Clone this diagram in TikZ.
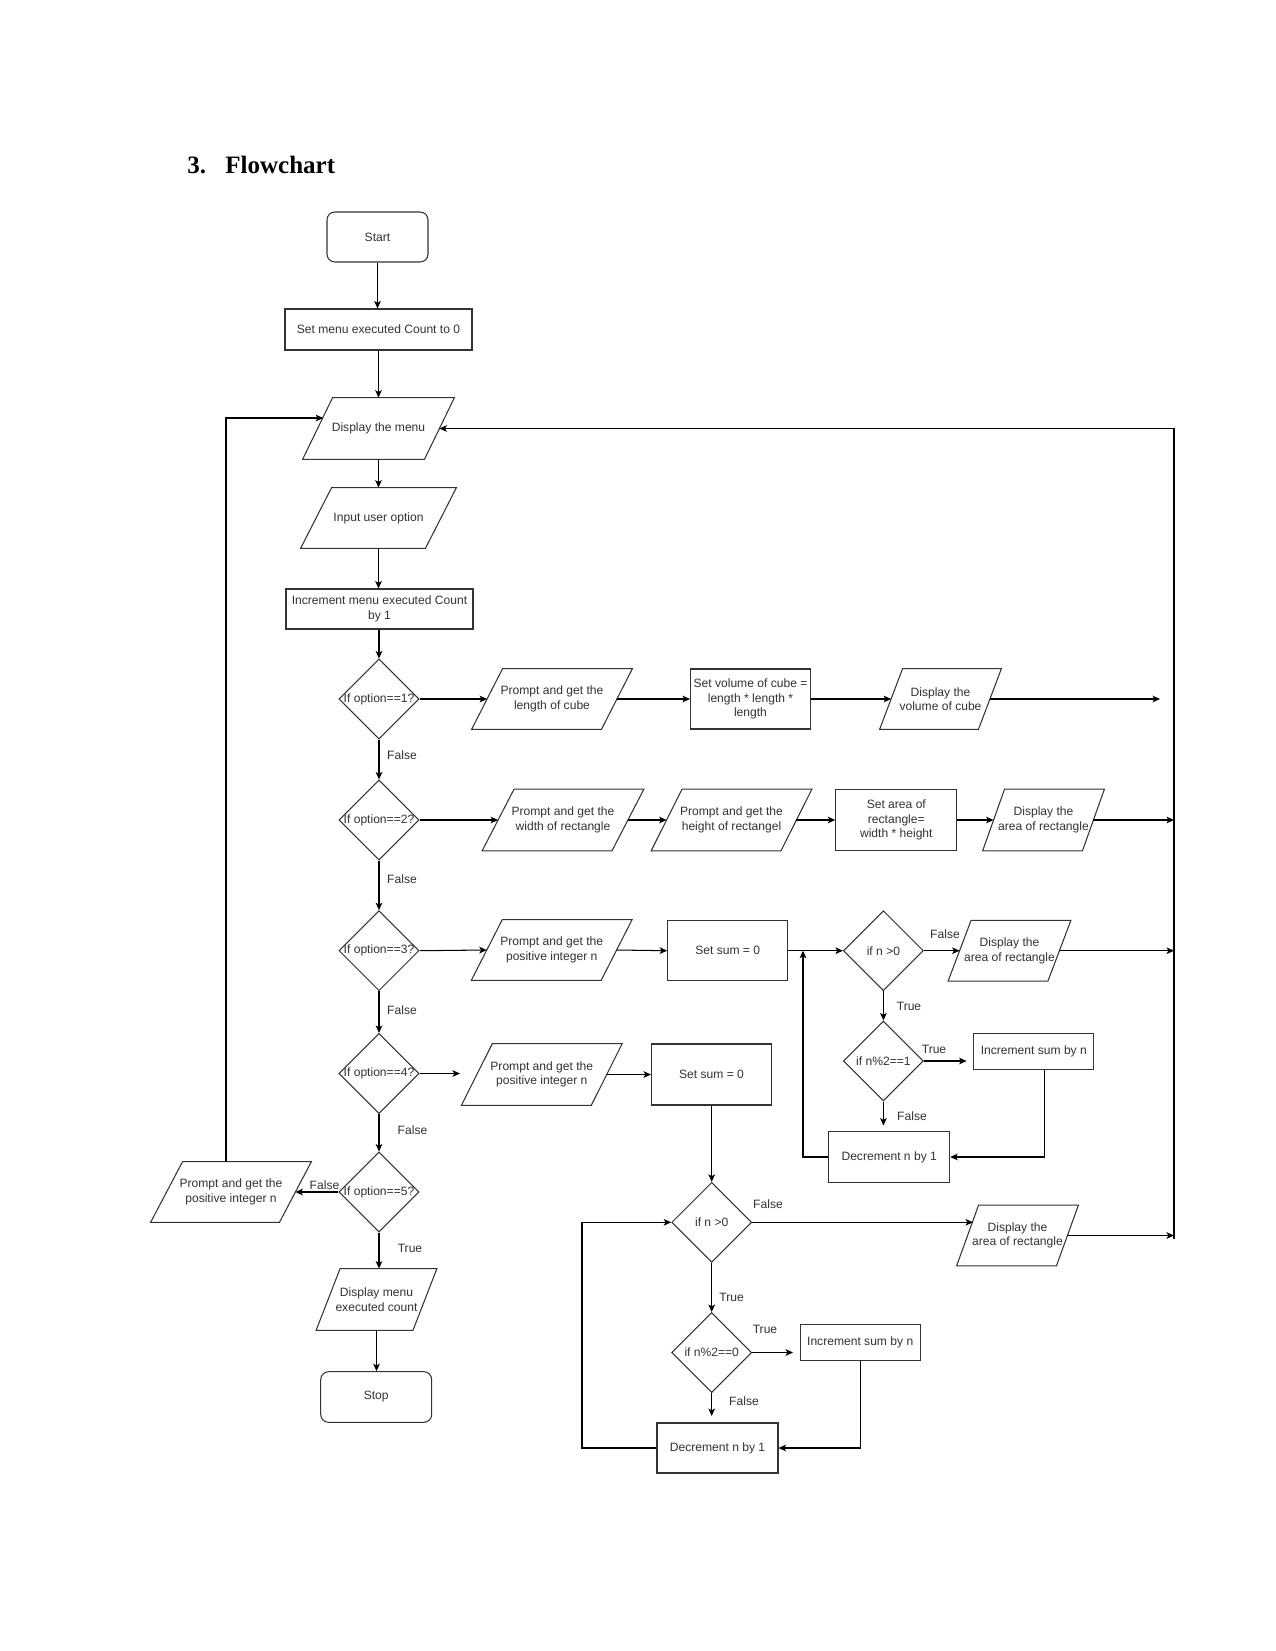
\documentclass[tikz,border=0pt]{standalone}
\usepackage{fontspec}
\setmainfont{Liberation Sans}
\newfontfamily\titlefont{Liberation Serif}
\usetikzlibrary{shapes.geometric,arrows.meta,calc}
\newcommand\iobox[2]{\draw[shp] ([xshift=#2*0.24pt]#1.north west) -- ([xshift=#2*0.24pt]#1.north east) -- ([xshift=-#2*0.24pt]#1.south east) -- ([xshift=-#2*0.24pt]#1.south west) -- cycle;}
\begin{document}
\begin{tikzpicture}[x=0.48pt,y=-0.48pt,
  shp/.style={draw=black!80, line width=0.5pt},
  txt/.style={font=\fontsize{5.8}{6.9}\selectfont, text=black!80},
  proc/.style={shp, txt, rectangle, inner sep=0pt, align=center},
  io/.style={txt, rectangle, inner sep=0pt, align=center},
  dia/.style={shp, txt, diamond, inner sep=0pt, minimum width=38.4pt, minimum height=38.4pt},
  term/.style={proc, rounded corners=3.8pt},
  arr/.style={-{Stealth[length=3.6pt,width=3.2pt,inset=0.9pt]}, line width=0.5pt, black},
  lbl/.style={txt, inner sep=0pt},
  W/.style={minimum width=#1*0.48pt},
  H/.style={minimum height=#1*0.48pt}]
\useasboundingbox[fill=white] (0,0) rectangle (1275,1651);

% title
\node[anchor=base west, inner sep=0pt, font=\titlefont\bfseries\fontsize{12}{14}\selectfont] (t1) at (187,173.5) {3.};
\node[anchor=base west, inner sep=0pt, font=\titlefont\bfseries\fontsize{12}{14}\selectfont] (t2) at (225,173.5) {Flowchart};

% main column
\node[term, W=101, H=50] (start) at (377.5,237) {Start};
\node[proc, W=187, H=41] (setcnt) at (378.5,329.5) {Set menu executed Count to 0};
\node[io, W=121, H=61] (menu) at (378.5,428.5) {Display the menu}; \iobox{menu}{30}
\node[io, W=124, H=60] (input) at (378.5,518) {Input user option}; \iobox{input}{31}
\node[proc, W=187, H=40] (inc) at (379.5,609) {Increment menu executed Count\\by 1};
\node[dia] (d1) at (379,699) {\makebox[0pt]{If option==1?}};
\node[dia] (d2) at (379,820) {\makebox[0pt]{If option==2?}};
\node[dia] (d3) at (379,950.7) {\makebox[0pt]{If option==3?}};
\node[dia] (d4) at (379,1073.5) {\makebox[0pt]{If option==4?}};
\node[dia] (d5) at (379,1192) {\makebox[0pt]{If option==5?}};
\node[io, W=96, H=61] (dispcnt) at (376.5,1299.5) {Display menu\\executed count}; \iobox{dispcnt}{24}
\node[term, W=111, H=50.6] (stop) at (376.2,1397) {Stop};
\node[io, W=128, H=60] (p5) at (231,1192) {Prompt and get the\\positive integer n}; \iobox{p5}{32}

% row 1
\node[io, W=129, H=60] (p1) at (552,699) {Prompt and get the\\length of cube}; \iobox{p1}{31}
\node[proc, W=120, H=60] (vol) at (750.5,699) {Set volume of cube =\\length * length *\\length};
\node[io, W=98, H=60] (dvol) at (940.5,699) {Display the\\volume of cube}; \iobox{dvol}{23}
\coordinate (e1) at (1160,699);

% row 2
\node[io, W=129, H=61] (pw) at (563,820) {Prompt and get the\\width of rectangle}; \iobox{pw}{32}
\node[io, W=129, H=61] (ph) at (731.5,820) {Prompt and get the\\height of rectangel}; \iobox{ph}{31}
\node[proc, W=121, H=61] (area) at (896.3,820) {Set area of\\rectangle=\\width * height};
\node[io, W=99, H=61] (darea2) at (1043.5,820) {Display the\\area of rectangle}; \iobox{darea2}{22}
\coordinate (r2) at (1174,820);

% row 3
\node[io, W=129, H=60] (p3) at (551.7,950) {Prompt and get the\\positive integer n}; \iobox{p3}{31}
\node[proc, W=120, H=60] (sum3) at (727.7,950.7) {Set sum = 0};
\node[dia] (n3) at (883.4,950.7) {\makebox[0pt]{if n >0}};
\node[io, W=99, H=60] (darea3) at (1009.5,950.7) {Display the\\area of rectangle}; \iobox{darea3}{23}
\coordinate (r3) at (1174,950.7);
\node[dia] (odd3) at (883.4,1061) {\makebox[0pt]{if n\%2==1}};
\node[proc, W=120, H=36] (incs3) at (1033.8,1051.7) {Increment sum by n};
\node[proc, W=121, H=50.5] (dec3) at (889.2,1157) {Decrement n by 1};
\coordinate (c3a) at (966.6,1061);
\coordinate (c3b) at (883.4,1125.5);
\coordinate (loop3) at (803,950.7);

% row 4
\coordinate (e4) at (460,1073.5);
\node[io, W=129, H=61] (p4) at (541.8,1074.5) {Prompt and get the\\positive integer n}; \iobox{p4}{31}
\node[proc, W=120, H=61] (sum4) at (711.5,1074.5) {Set sum = 0};
\node[dia] (n4) at (711.7,1222.3) {\makebox[0pt]{if n >0}};
\node[io, W=99, H=60] (darea4) at (1017.5,1235.5) {Display the\\area of rectangle}; \iobox{darea4}{22}
\coordinate (a4) at (973,1222.3);
\coordinate (r4) at (1174,1235.5);
\node[dia] (even4) at (711.7,1352.5) {\makebox[0pt]{if n\%2==0}};
\node[proc, W=120, H=36] (incs4) at (860.2,1342.5) {Increment sum by n};
\node[proc, W=121, H=50] (dec4) at (717.5,1448) {Decrement n by 1};
\coordinate (c4a) at (793,1352.5);
\coordinate (c4b) at (711.7,1416);
\coordinate (loop4) at (582,1222.3);

% right return line
\coordinate (rt) at (1174,428.5);
\coordinate (rb) at (1174,1239);
\coordinate (m1) at (323.2,418);

% connectors main column
\draw[arr] (start.south) -- (start.south |- setcnt.north);
\draw[arr] (setcnt.south) -- (setcnt.south |- menu.north);
\draw[arr] (menu.south) -- (menu.south |- input.north);
\draw[arr] (input.south) -- (input.south |- inc.north);
\draw[arr] (inc.south -| d1.north) -- (d1.north);
\draw[arr] (d1.south) -- (d2.north);
\draw[arr] (d2.south) -- (d3.north);
\draw[arr] (d3.south) -- (d4.north);
\draw[arr] (d4.south) -- (d5.north);
\draw[arr] (d5.south) -- (d5.south |- dispcnt.north);
\draw[arr] (dispcnt.south) -- (dispcnt.south |- stop.north);
\draw[arr] (d5.west) -- (p5.east);
\draw[arr] ([xshift=-2.4pt]p5.north) |- (m1);
\draw[arr] (rb) -- (rt) -- (menu.east);

\node[lbl] (f1) at (402,755) {False};
\node[lbl] (f2) at (402,879) {False};
\node[lbl] (f3) at (402,1010) {False};
\node[lbl] (f4) at (412.5,1130) {False};
\node[lbl] (f5) at (324.5,1185) {False};
\node[lbl] (tr5) at (410,1248) {True};

% row 1
\draw[arr] (d1.east) -- (p1.west);
\draw[arr] (p1.east) -- (vol.west);
\draw[arr] (vol.east) -- (dvol.west);
\draw[arr] (dvol.east) -- (e1);

% row 2
\draw[arr] (d2.east) -- (pw.west);
\draw[arr] (pw.east) -- (ph.west);
\draw[arr] (ph.east) -- (area.west);
\draw[arr] (area.east) -- (darea2.west);
\draw[arr] (darea2.east) -- (r2);

% row 3
\draw[arr] (d3.east) -- (p3.west);
\draw[arr] (p3.east) -- (sum3.west);
\draw[arr] (sum3.east) -- (n3.west);
\draw[arr] (n3.east) -- (darea3.west);
\draw[arr] (darea3.east) -- (r3);
\draw[arr] (n3.south) -- (odd3.north);
\draw[arr] (odd3.east) -- (c3a);
\draw[arr] (odd3.south) -- (c3b);
\draw[arr] ([xshift=4.9pt]incs3.south) |- (dec3.east);
\draw[arr] (dec3.west) -| (loop3);
\node[lbl] (f31) at (945,934.3) {False};
\node[lbl] (t31) at (909,1006) {True};
\node[lbl] (t32) at (934,1049) {True};
\node[lbl] (f32) at (912,1116) {False};

% row 4
\draw[arr] (d4.east) -- (e4);
\draw[arr] (p4.east) -- (sum4.west);
\draw[arr] (sum4.south -| n4.north) -- (n4.north);
\draw[arr] (n4.east) -- (a4);
\draw[arr] (darea4.east) -- (r4);
\draw[arr] (n4.south) -- (even4.north);
\draw[arr] (even4.east) -- (c4a);
\draw[arr] (even4.south) -- (c4b);
\draw[arr] (incs4.south) |- (dec4.east);
\draw[arr] (dec4.west) -| (loop4) -- (n4.west);
\node[lbl] (f41) at (768,1204) {False};
\node[lbl] (t41) at (731.6,1297.7) {True};
\node[lbl] (t42) at (765,1329) {True};
\node[lbl] (f42) at (744,1401) {False};
\end{tikzpicture}
\end{document}
